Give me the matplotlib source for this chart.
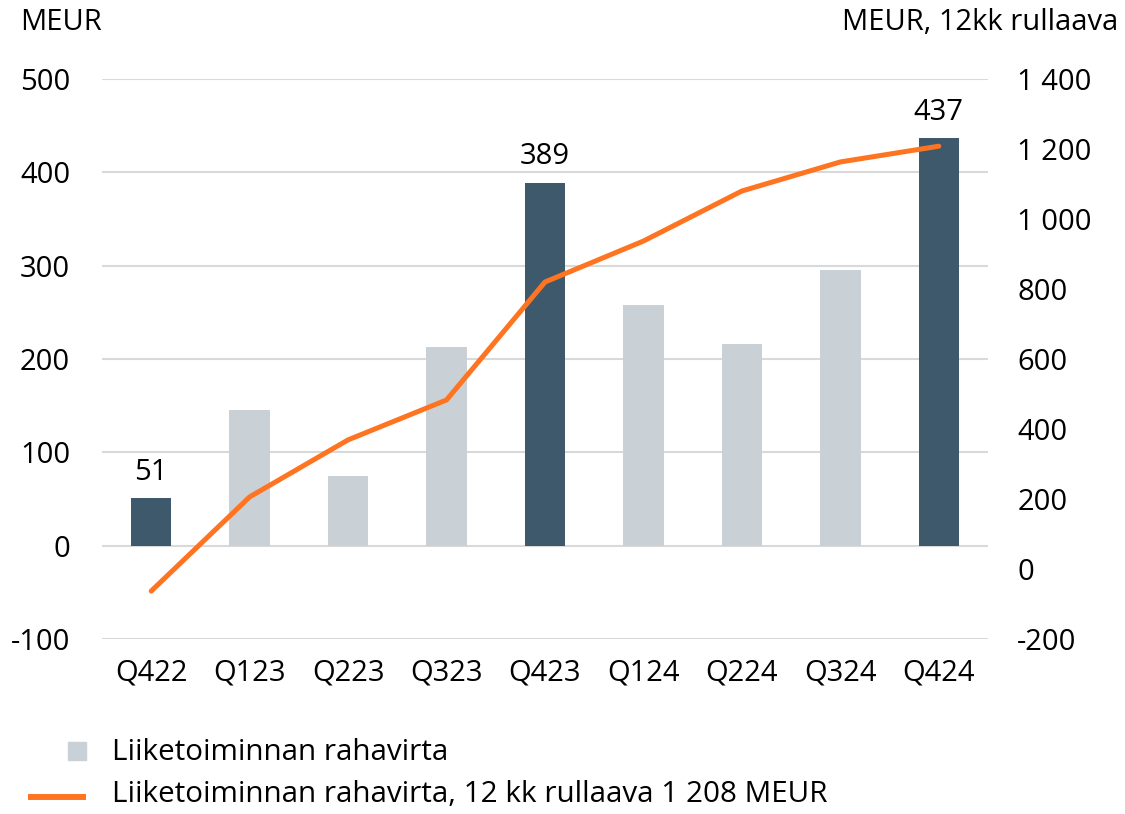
import numpy as np
import matplotlib.pyplot as plt
from matplotlib.patches import Rectangle
from matplotlib.lines import Line2D

plt.rcParams['font.family'] = ['Open Sans', 'DejaVu Sans']

quarters = ['Q422', 'Q123', 'Q223', 'Q323', 'Q423', 'Q124', 'Q224', 'Q324', 'Q424']
cash_flow = [51, 145, 75, 213, 389, 258, 216, 295, 437]
rolling_12m = [-63, 206, 369, 483, 820, 937, 1080, 1163, 1208]
left_ticks = [-100, 0, 100, 200, 300, 400, 500]
right_ticks = [-200, 0, 200, 400, 600, 800, 1000, 1200, 1400]
legend_labels = ['Liiketoiminnan rahavirta',
                 'Liiketoiminnan rahavirta, 12 kk rullaava 1 208 MEUR']

dark = '#3f596c'
light = '#c9d0d6'
orange = '#ff7420'
fs = 21
W, H = 1125, 814

fig = plt.figure(figsize=(W / 100, H / 100), dpi=100)
ax = fig.add_axes([102 / W, 1 - 639 / H, (988 - 102) / W, (639 - 79) / H])
ax2 = ax.twinx()

x = np.arange(len(quarters))
colors = [dark if q.startswith('Q4') else light for q in quarters]
ax.bar(x, cash_flow, width=0.41, color=colors, zorder=3)
for i, v in enumerate(cash_flow):
    if quarters[i].startswith('Q4'):
        ax.text(x[i], v + 12, str(v), ha='center', va='bottom', fontsize=fs)

ax2.plot(x, rolling_12m, color=orange, lw=3.6, solid_capstyle='round',
         solid_joinstyle='round', zorder=4)

ax.set_xlim(-0.5, len(quarters) - 0.5)
ax.set_ylim(-100, 500)
ax2.set_ylim(-200, 1400)
ax.set_yticks(left_ticks)
ax.set_yticklabels([str(t) for t in left_ticks])
ax2.set_yticks(right_ticks)
ax2.set_yticklabels([f'{t:,}'.replace(',', ' ') for t in right_ticks])
ax.set_xticks(x)
ax.set_xticklabels(quarters)

ax.grid(axis='y', color='#d9d9d9', lw=1.5, zorder=0)
ax.set_axisbelow(True)
for a in (ax, ax2):
    for s in a.spines.values():
        s.set_visible(False)
ax.tick_params(axis='y', length=0, pad=23, labelsize=fs)
ax.tick_params(axis='x', length=0, pad=14, labelsize=fs)
ax2.tick_params(axis='y', length=0, pad=21, labelsize=fs)

fig.text(20 / W, 1 - 22 / H, 'MEUR', fontsize=fs, ha='left', va='center')
fig.text(1118 / W, 1 - 22 / H, 'MEUR, 12kk rullaava', fontsize=fs, ha='right', va='center')

# legend drawn by hand
fig.add_artist(Rectangle((68 / W, 1 - 760 / H), 18 / W, 18 / H,
                         transform=fig.transFigure, color=light))
fig.add_artist(Line2D([31 / W, 83 / W], [1 - 797 / H, 1 - 797 / H],
                      transform=fig.transFigure, color=orange, lw=4.3))
fig.text(112 / W, 1 - 752 / H, legend_labels[0], fontsize=21.3, ha='left', va='center')
fig.text(112 / W, 1 - 795 / H, legend_labels[1], fontsize=21.3, ha='left', va='center')

fig.savefig('out.png', dpi=100)
